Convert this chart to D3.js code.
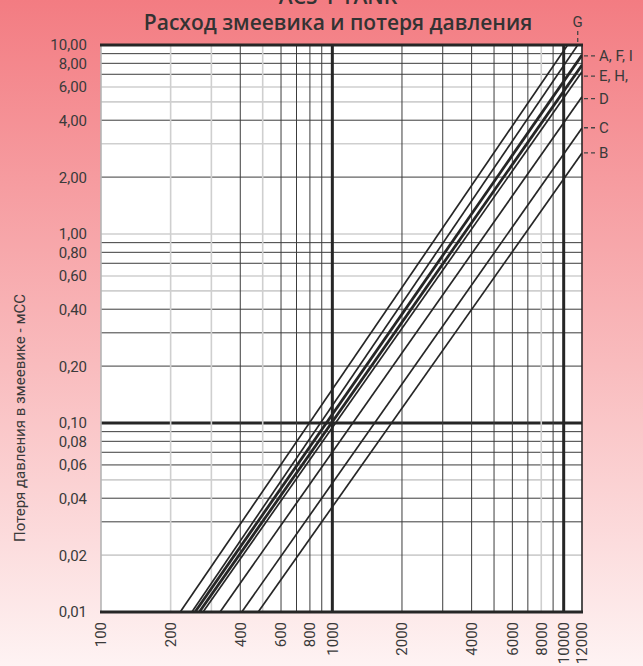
<!DOCTYPE html>
<html>
<head>
<meta charset="utf-8">
<script src="https://cdn.jsdelivr.net/npm/d3@7"></script>
<style>
  html, body { margin: 0; padding: 0; }
  svg { display: block; }
</style>
</head>
<body>
<div id="container"></div>
<script>
const width = 643;
const height = 666;

// data
const seriesNames = ["", "G", "A, F, I", "", "E, H,", "D", "C", "B"];
const flowAtMin = [220, 247, 255, 266, 276, 327, 406, 478]; // flow where loss = 0,01
const flowEnd = [10400, 11500, 12000, 12000, 12000, 12000, 12000, 12000];
const lossEnd = [10, 10, 8.85, 7.84, 7.22, 5.33, 3.64, 2.68];
const lossMin = 0.01;

const rightLabels = ["A, F, I", "E, H,", "D", "C", "B"];
const rightLabelLoss = [8.75, 6.85, 5.2, 3.65, 2.69];
const topLabel = "G";
const topLabelFlow = 11500;

const xTicks = [100, 200, 400, 600, 800, 1000, 2000, 4000, 6000, 8000, 10000, 12000];
const yTicks = [10, 8, 6, 4, 2, 1, 0.8, 0.6, 0.4, 0.2, 0.1, 0.08, 0.06, 0.04, 0.02, 0.01];

const title = "Расход змеевика и потеря давления";
const topTitle = "ACS-T TANK";
const yTitle = "Потеря давления в змеевике - мСС";

const plot = { left: 101, right: 582, top: 45, bottom: 612 };
const ink = "#262626";
const textColor = "#3a3a3a";

const x = d3.scaleLog().domain([100, 12000]).range([plot.left, plot.right]);
const y = d3.scaleLog().domain([0.01, 10]).range([plot.bottom, plot.top]);

const svg = d3
  .select("#container")
  .append("svg")
  .attr("width", width)
  .attr("height", height);

const defs = svg.append("defs");
const grad = defs
  .append("linearGradient")
  .attr("id", "bg")
  .attr("x1", 0).attr("y1", 0)
  .attr("x2", 0).attr("y2", 1);
grad.append("stop").attr("offset", "0%").attr("stop-color", "#f37c82");
grad.append("stop").attr("offset", "55%").attr("stop-color", "#f9bcbe");
grad.append("stop").attr("offset", "100%").attr("stop-color", "#fef3f3");

defs
  .append("clipPath")
  .attr("id", "plotClip")
  .append("rect")
  .attr("x", plot.left)
  .attr("y", plot.top)
  .attr("width", plot.right - plot.left)
  .attr("height", plot.bottom - plot.top);

svg.append("rect").attr("width", width).attr("height", height).attr("fill", "url(#bg)");

svg
  .append("rect")
  .attr("x", plot.left)
  .attr("y", plot.top)
  .attr("width", plot.right - plot.left)
  .attr("height", plot.bottom - plot.top)
  .attr("fill", "white");

// grid: every 1..9 of each decade
const xGrid = x.ticks().filter((v) => v > 100 && v < 12000);
const yGrid = y.ticks().filter((v) => v > 0.01 && v < 10);

const xLight = [200, 300, 500, 8000];
const xThick = [1000, 10000];
const yLight = [6, 5, 3, 1, 0.6, 0.5, 0.05, 0.02];
const yThick = [0.1];

const near = (list, v) => list.some((w) => Math.abs(w - v) / w < 1e-6);

function gridStroke(light, thick) {
  return (v) => (near(thick, v) ? ink : near(light, v) ? "#cfcfcf" : "#3c3c3c");
}
function gridWidth(light, thick) {
  return (v) => (near(thick, v) ? 3 : near(light, v) ? 1.6 : 1);
}

const grid = svg.append("g");

grid
  .selectAll("line.h")
  .data(yGrid)
  .enter()
  .append("line")
  .attr("class", "h")
  .attr("x1", plot.left)
  .attr("x2", plot.right)
  .attr("y1", (d) => y(d))
  .attr("y2", (d) => y(d))
  .attr("stroke", gridStroke(yLight, yThick))
  .attr("stroke-width", gridWidth(yLight, yThick));

grid
  .selectAll("line.v")
  .data(xGrid)
  .enter()
  .append("line")
  .attr("class", "v")
  .attr("y1", plot.top)
  .attr("y2", plot.bottom)
  .attr("x1", (d) => x(d))
  .attr("x2", (d) => x(d))
  .attr("stroke", gridStroke(xLight, xThick))
  .attr("stroke-width", gridWidth(xLight, xThick));

// borders
grid.append("line")
  .attr("x1", plot.left).attr("x2", plot.left)
  .attr("y1", plot.top).attr("y2", plot.bottom)
  .attr("stroke", "#b5b5b5").attr("stroke-width", 1.6);
grid.append("line")
  .attr("x1", plot.right).attr("x2", plot.right)
  .attr("y1", plot.top).attr("y2", plot.bottom)
  .attr("stroke", ink).attr("stroke-width", 1.6);
grid.append("line")
  .attr("x1", plot.left - 1).attr("x2", plot.right + 1)
  .attr("y1", y(10)).attr("y2", y(10))
  .attr("stroke", ink).attr("stroke-width", 3);
grid.append("line")
  .attr("x1", plot.left - 1).attr("x2", plot.right + 1)
  .attr("y1", y(0.01)).attr("y2", y(0.01))
  .attr("stroke", ink).attr("stroke-width", 3);

// coil lines
const thickLines = [2, 3];
svg
  .append("g")
  .attr("clip-path", "url(#plotClip)")
  .selectAll("line.coil")
  .data(seriesNames)
  .enter()
  .append("line")
  .attr("class", "coil")
  .attr("x1", (d, i) => x(flowAtMin[i]))
  .attr("y1", y(lossMin))
  .attr("x2", (d, i) => x(flowEnd[i]))
  .attr("y2", (d, i) => y(lossEnd[i]))
  .attr("stroke", ink)
  .attr("stroke-width", (d, i) => (thickLines.includes(i) ? 2.8 : 1.7));

// y axis labels
svg
  .append("g")
  .selectAll("text")
  .data(yTicks)
  .enter()
  .append("text")
  .text((d) => d.toFixed(2).replace(".", ","))
  .attr("x", 87)
  .attr("y", (d) => y(d))
  .attr("dy", "0.36em")
  .attr("text-anchor", "end")
  .attr("font-family", "Roboto, sans-serif")
  .attr("font-size", "15px")
  .attr("fill", textColor);

// x axis labels, rotated
svg
  .append("g")
  .selectAll("text")
  .data(xTicks)
  .enter()
  .append("text")
  .text((d) => d)
  .attr("transform", (d) => `translate(${x(d)},622) rotate(-90)`)
  .attr("dy", "0.36em")
  .attr("text-anchor", "end")
  .attr("font-family", "Roboto, sans-serif")
  .attr("font-size", "15px")
  .attr("fill", textColor);

// right side labels
const legend = svg.append("g");
legend
  .selectAll("line")
  .data(rightLabels)
  .enter()
  .append("line")
  .attr("x1", plot.right + 2)
  .attr("x2", plot.right + 14)
  .attr("y1", (d, i) => y(rightLabelLoss[i]))
  .attr("y2", (d, i) => y(rightLabelLoss[i]))
  .attr("stroke", "#444")
  .attr("stroke-width", 1.3)
  .attr("stroke-dasharray", "4,3");
legend
  .selectAll("text")
  .data(rightLabels)
  .enter()
  .append("text")
  .text((d) => d)
  .attr("x", plot.right + 17)
  .attr("y", (d, i) => y(rightLabelLoss[i]))
  .attr("dy", "0.36em")
  .attr("font-family", "Roboto, sans-serif")
  .attr("font-size", "15px")
  .attr("fill", textColor);

legend.append("line")
  .attr("x1", x(topLabelFlow)).attr("x2", x(topLabelFlow))
  .attr("y1", 31).attr("y2", plot.top - 1)
  .attr("stroke", "#444")
  .attr("stroke-width", 1.3)
  .attr("stroke-dasharray", "4,3");
legend.append("text")
  .text(topLabel)
  .attr("x", x(topLabelFlow))
  .attr("y", 27)
  .attr("text-anchor", "middle")
  .attr("font-family", "Roboto, sans-serif")
  .attr("font-size", "15px")
  .attr("fill", textColor);

// titles
svg.append("text")
  .text(topTitle)
  .attr("x", 338)
  .attr("y", 4)
  .attr("text-anchor", "middle")
  .attr("font-family", "'Open Sans', sans-serif")
  .attr("font-weight", "600")
  .attr("font-size", "21px")
  .attr("fill", "#333");

svg.append("text")
  .text(title)
  .attr("x", 338)
  .attr("y", 30)
  .attr("text-anchor", "middle")
  .attr("font-family", "'Open Sans', sans-serif")
  .attr("font-weight", "600")
  .attr("font-size", "21px")
  .attr("fill", "#333");

svg.append("text")
  .text(yTitle)
  .attr("transform", "translate(20,418) rotate(-90)")
  .attr("dy", "0.36em")
  .attr("text-anchor", "middle")
  .attr("font-family", "Roboto, sans-serif")
  .attr("font-size", "15px")
  .attr("fill", textColor);
</script>
</body>
</html>
